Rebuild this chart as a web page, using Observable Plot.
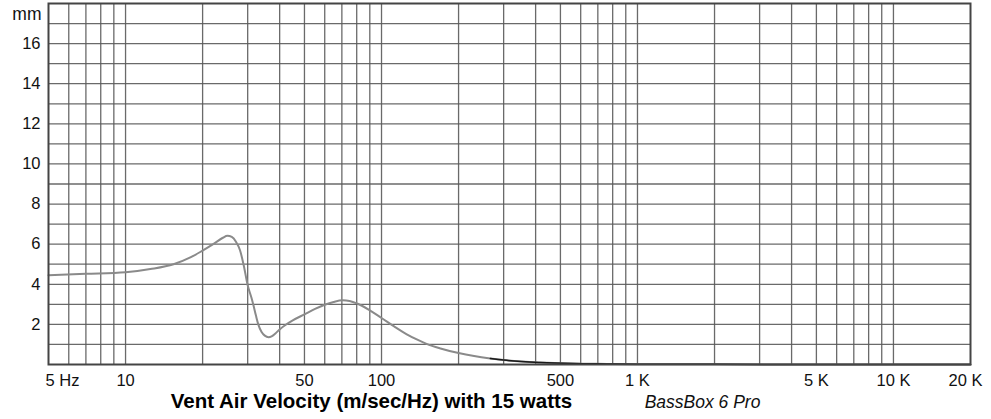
<!DOCTYPE html>
<html>
<head>
<meta charset="utf-8">
<script src="https://cdn.jsdelivr.net/npm/d3@7"></script>
<script src="https://cdn.jsdelivr.net/npm/@observablehq/plot@0.6"></script>
<style>
  html, body { margin: 0; padding: 0; background: #fff; }
  svg { display: block; }
</style>
</head>
<body>
<div id="chart"></div>
<script>
// Frequency (Hz) and vent air velocity readings (mm axis)
const freqs = [5, 7, 10, 12.5, 15.4, 18, 20, 22, 24, 25, 26, 27, 28, 29, 30, 31, 31.6, 32.3, 33, 34, 35, 36.2, 37.2, 38.5, 40, 42.5, 45, 50, 55, 60, 65, 70.6, 75, 80.7, 90, 100, 112, 125, 140, 150, 170, 200, 230, 266, 300, 417, 560, 762, 1000, 2000, 5000, 20000];
const values = [4.45, 4.52, 4.6, 4.76, 5.0, 5.35, 5.68, 6.0, 6.32, 6.42, 6.36, 6.12, 5.7, 4.9, 3.95, 3.35, 2.95, 2.45, 2.0, 1.62, 1.44, 1.36, 1.4, 1.55, 1.75, 2.0, 2.2, 2.5, 2.77, 2.98, 3.12, 3.2, 3.17, 3.03, 2.7, 2.32, 1.9, 1.52, 1.2, 1.03, 0.8, 0.57, 0.42, 0.3, 0.22, 0.1, 0.05, 0.03, 0.015, 0.008, 0.003, 0.0];

const xTickValues = [5, 10, 50, 100, 500, 1000, 5000, 10000, 20000];
const xTickLabels = ["5 Hz", "10", "50", "100", "500", "1 K", "5 K", "10 K", "20 K"];
const yTickValues = [2, 4, 6, 8, 10, 12, 14, 16];
const yUnitLabel = "mm";
const xGrid = [6, 7, 8, 9, 10, 20, 30, 40, 50, 60, 70, 80, 90, 100, 200, 300, 400, 500, 600, 700, 800, 900, 1000, 2000, 3000, 4000, 5000, 6000, 7000, 8000, 9000, 10000];
const yGrid = [1, 2, 3, 4, 5, 6, 7, 8, 9, 10, 11, 12, 13, 14, 15, 16, 17];
const title = "Vent Air Velocity (m/sec/Hz) with 15 watts";
const subtitle = "BassBox 6 Pro";

const data = freqs.map((f, i) => ({f, v: values[i]}));
const xTicks = xTickValues.map((f, i) => ({f, label: xTickLabels[i]}));

const font = "'Liberation Sans', Arial, sans-serif";

const plot = Plot.plot({
  width: 991,
  height: 419,
  marginLeft: 48,
  marginRight: 21,
  marginTop: 3,
  marginBottom: 55,
  style: {fontFamily: font, background: "#fff"},
  x: {type: "log", domain: [5, 20000], axis: null},
  y: {domain: [0, 18], axis: null},
  marks: [
    Plot.ruleX(xGrid, {stroke: "#5a5a5a", strokeWidth: 1.3, strokeOpacity: 0.9}),
    Plot.ruleY(yGrid, {stroke: "#5a5a5a", strokeWidth: 1.3, strokeOpacity: 0.9}),
    Plot.line(data, {x: "f", y: "v", curve: "monotone-x", stroke: "#8a8a8a", strokeWidth: 2}),
    Plot.line(data.filter(d => d.f >= 266), {x: "f", y: "v", curve: "monotone-x", stroke: "#1a1a1a", strokeWidth: 1.5}),
    Plot.frame({stroke: "#444", strokeWidth: 2}),
    // x tick labels
    Plot.text(xTicks.slice(1, -1), {x: "f", y: 0, text: "label", dy: 16, fontSize: 16.5, fill: "#111"}),
    Plot.text(xTicks.slice(0, 1), {x: "f", y: 0, text: "label", dy: 16, dx: 14, fontSize: 16.5, fill: "#111"}),
    Plot.text(xTicks.slice(-1), {x: "f", y: 0, text: "label", dy: 16, dx: -5, fontSize: 16.5, fill: "#111"}),
    // y tick labels
    Plot.text(yTickValues, {y: d => d, text: d => String(d), frameAnchor: "left", dx: -8, textAnchor: "end", fontSize: 16.5, fill: "#111"}),
    Plot.text([yUnitLabel], {y: 17.45, text: d => d, frameAnchor: "left", dx: -7, textAnchor: "end", fontSize: 17.5, fill: "#111"}),
    // title & credit
    Plot.text([title], {frameAnchor: "bottom", text: d => d, dx: -138, dy: 43, fontSize: 20.5, fontWeight: "bold", fill: "#000"}),
    Plot.text([subtitle], {frameAnchor: "bottom", text: d => d, dx: 193, dy: 43, fontSize: 17.5, fontStyle: "italic", fill: "#111"})
  ]
});
document.getElementById("chart").appendChild(plot);
</script>
</body>
</html>
